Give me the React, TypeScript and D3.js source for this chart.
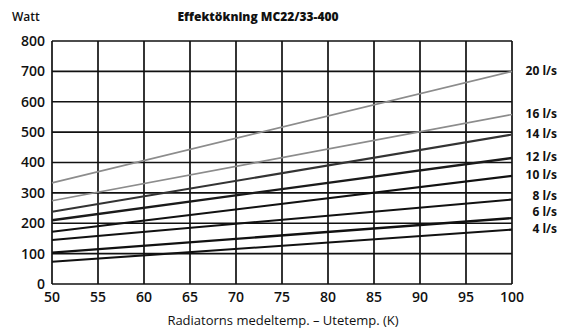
import React from "react";
import * as d3 from "d3";

const xTicks = [50, 55, 60, 65, 70, 75, 80, 85, 90, 95, 100];
const yTicks = [0, 100, 200, 300, 400, 500, 600, 700, 800];
const flows = ["20 l/s", "16 l/s", "14 l/s", "12 l/s", "10 l/s", "8 l/s", "6 l/s", "4 l/s"];
const wattAt50 = [333, 274, 238, 210, 172, 145, 103, 73];
const wattAt100 = [700, 558, 492, 415, 356, 278, 217, 179];
const tempPoints = [50, 100];

const W = 568;
const H = 332;
const FONT = "'Open Sans', 'DejaVu Sans', sans-serif";

const lineColors = ["#8c8c8c", "#8c8c8c", "#333", "#1a1a1a", "#111", "#111", "#111", "#111"];
const lineWidths = [1.7, 1.7, 2.1, 2.4, 2.1, 2.1, 2.3, 2.1];

export default function App() {
  const x = d3.scaleLinear().domain([50, 100]).range([52, 512]);
  const y = d3.scaleLinear().domain([0, 800]).range([284, 41]);
  const line = d3
    .line<[number, number]>()
    .x((d) => x(d[0]))
    .y((d) => y(d[1]));

  // label positions: at endpoint, pushed apart from bottom up
  const labelY: number[] = new Array(flows.length);
  for (let i = flows.length - 1; i >= 0; i--) {
    let yy = y(wattAt100[i]) - 1;
    if (i < flows.length - 1) yy = Math.min(yy, labelY[i + 1] - 16.5);
    labelY[i] = yy;
  }

  return (
    <svg
      width={W}
      height={H}
      style={{ position: "absolute", left: 0, top: 0, background: "#fff" }}
      fontFamily={FONT}
    >
      <rect x={0} y={0} width={W} height={H} fill="#fff" />
      <text x={12} y={21} fontSize={12} fontWeight={600} fill="#111">
        Watt
      </text>
      <text x={258} y={21} fontSize={12} fontWeight={800} fill="#111" textAnchor="middle">
        Effektökning MC22/33-400
      </text>

      {/* grid */}
      {yTicks.map((t) => (
        <line key={"gy" + t} x1={x(50)} x2={x(100)} y1={y(t)} y2={y(t)} stroke="#111" strokeWidth={1.7} />
      ))}
      {xTicks.map((t) => (
        <line key={"gx" + t} x1={x(t)} x2={x(t)} y1={y(0)} y2={y(800)} stroke="#111" strokeWidth={1.7} />
      ))}

      {/* series */}
      {flows.map((f, i) => (
        <path
          key={f}
          d={line(tempPoints.map((tp, k) => [tp, k === 0 ? wattAt50[i] : wattAt100[i]] as [number, number])) || ""}
          fill="none"
          stroke={lineColors[i]}
          strokeWidth={lineWidths[i]}
        />
      ))}

      {/* y tick labels */}
      {yTicks.map((t) => (
        <text
          key={"ty" + t}
          x={45}
          y={y(t)}
          dy="0.35em"
          fontSize={14}
          fontWeight={600}
          textAnchor="end"
          fill="#111"
        >
          {t}
        </text>
      ))}
      {/* x tick labels */}
      {xTicks.map((t) => (
        <text key={"tx" + t} x={x(t)} y={302} fontSize={14} fontWeight={600} textAnchor="middle" fill="#111">
          {t}
        </text>
      ))}

      {/* series labels */}
      {flows.map((f, i) => (
        <text key={"l" + f} x={557} y={labelY[i]} dy="0.35em" fontSize={12} fontWeight={700} textAnchor="end" fill="#111">
          {f}
        </text>
      ))}

      <text x={283} y={325} fontSize={13} textAnchor="middle" fill="#111">
        Radiatorns medeltemp. – Utetemp. (K)
      </text>
    </svg>
  );
}
